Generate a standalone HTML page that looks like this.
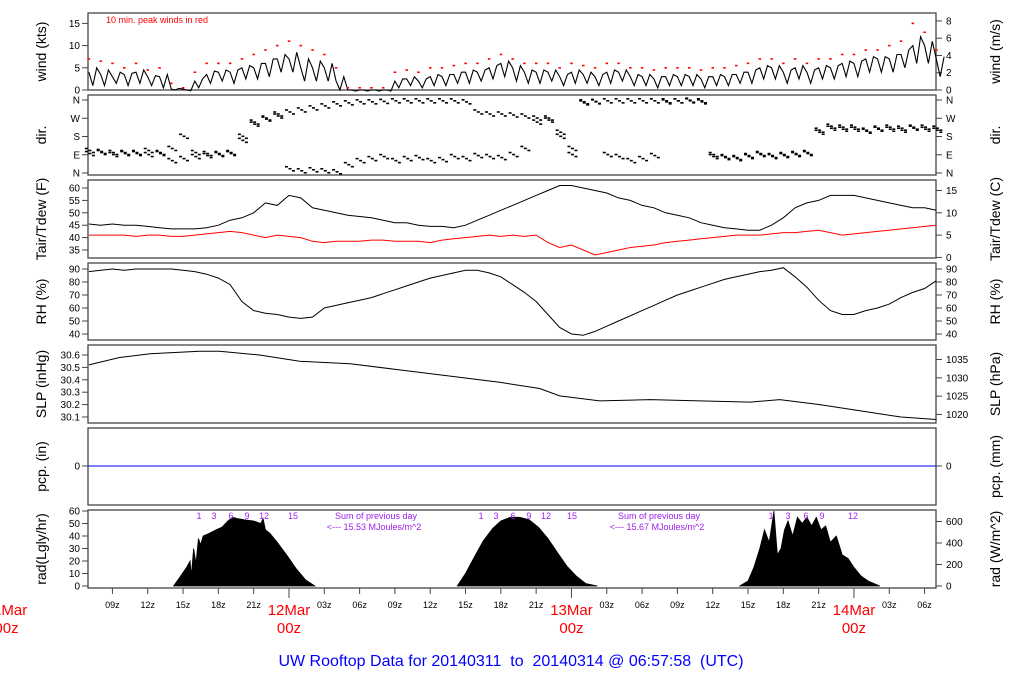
<!DOCTYPE html>
<html><head><meta charset="utf-8"><style>
html,body{margin:0;padding:0;background:#fff;}
svg{display:block;font-family:"Liberation Sans",sans-serif;}
</style></head><body>
<svg id="c" width="1024" height="700" viewBox="0 0 1024 700"></svg>
<script>
const hours=[];for(let h=7;h<=79;h++)hours.push(h);
const windMean=[4,3.5,3,3.5,4,3,3,0.2,0.2,2,3.5,4,4,5,5,6,7,7,5,5,5,2,0,0,0,0,2,2.5,2,3,3,3.5,4,4,5,6,5,4,4,4,3,4,3.5,3,4,4,3,3,2.5,3,3,3,2.5,3,3,3.5,4,5,5,4,5,4,5,5,6,6,7,7,7,8,10,10,7];
const windLow=[1,1,1.5,1,1.5,1,0.5,0,0,0.5,1.5,2,1.5,2.5,2.5,3,4,4,2,2,2,0,0,0,0,0,0.5,1,0.5,1,1,1.5,1.5,2,2.5,3,2,1.5,1.5,2,1,1.5,1.5,1,1.5,2,1,1,0.5,1,1,1,0.5,1,1,1.5,1.5,2.5,2.5,1.5,2.5,1.5,2.5,2.5,3,3,4,4,4,5,6,6,3];
const windPeak=[7,6.5,6,5,6,4.5,5,1.5,0.5,4,6,6,6,7,8,9,10,11,10,9,8,5,0.5,0.5,0.5,0.5,4,4.5,4,5,5,5.5,6,6,7,8,7,6,6,6,5,6,5.5,5,6,6,5,5,4.5,5,5,5,4.5,5,5,5.5,6,7,7,6,7,6,7,7,8,8,9,9,10,11,15,13,9];
const windDir=[110,105,100,95,100,110,95,120,180,100,95,95,100,160,240,270,290,300,310,320,330,340,345,350,350,352,355,355,355,355,355,355,350,300,290,290,285,280,270,260,200,120,350,352,355,355,355,355,355,355,355,355,355,80,75,70,80,90,85,90,95,100,200,220,225,215,210,220,215,220,225,215,220];
const dirAlt=[95,100,90,100,95,90,100,60,70,80,85,90,95,180,250,265,280,20,10,15,10,5,40,60,70,80,60,70,75,60,65,80,70,85,80,75,90,120,250,270,180,90,345,350,90,80,60,70,85,350,355,358,350,90,80,75,85,95,80,85,90,95,210,230,215,225,205,215,225,210,220,225,210];
const tair=[45.5,45,45.5,45,45,44.5,44,43.5,43.5,43.5,44,45,47,48,50,54,53,57,56,52,51,50,49,48.5,48,47,46,46,45,44.5,44.5,44,45,47,49,51,53,55,57,59,61,61,60,59,58,56,55,53,52,50,49,48,46,45,44,43.5,43,43,45,48,52,54,55,57,57,57,56,55,54,53,52,52,51];
const tdew=[41,41,41,41,40.5,41,41,40.5,40.5,41,41.5,42,42.5,42,41,40,41,40.5,40,38.5,38,38.5,38.5,38.5,39,39,38.5,38.5,38.5,38,39,39.5,40,40.5,41,40.5,41,40.5,41,38,36,37,35,33,34,35,36,36.5,37,38,38.5,39,39.5,40,40.5,41,41,41,41.5,42,42,42.5,43,42,41,41.5,42,42.5,43,43.5,44,44.5,45];
const rh=[88,89,90,89,90,90,90,90,89,88,86,83,78,65,58,56,55,53,52,53,60,62,64,66,68,71,74,77,80,83,85,87,89,89,87,84,78,72,65,55,45,40,39,42,46,50,54,58,62,66,70,73,76,79,82,84,86,88,89,91,84,76,66,58,55,55,58,60,63,68,72,75,81];
const slpTimes=[7,9.6,12.2,16.4,18.1,21.5,24.9,29.2,33.4,37.7,41.9,45.3,47,50.4,54.7,58.9,63.2,65.7,69.1,72.5,76,79];
const slpValues=[30.52,30.58,30.61,30.63,30.63,30.60,30.55,30.53,30.48,30.43,30.38,30.33,30.27,30.23,30.24,30.23,30.22,30.24,30.20,30.15,30.10,30.08];
const radTimes=[14.2,14.8,15.3,15.6,15.7,15.9,16.1,16.3,16.5,16.7,17.2,17.8,18.3,18.8,19.2,19.6,20.2,21,21.6,21.8,22,22.4,23,23.8,24.6,25.4,26.2,
38.3,39,39.8,40.5,41.3,42,42.8,43.6,44.4,45.2,46,46.8,47.6,48.4,49.2,50.2,
62.3,63,63.5,64,64.4,64.8,65.2,65.5,65.8,66.1,66.4,66.8,67.2,67.6,68,68.4,68.8,69.2,69.6,70,70.5,71,71.5,72,72.6,73.2,74.2];
const radValues=[0,8,15,20,8,30,18,38,33,40,42,45,47,52,55,54,53,52,50,54,45,42,35,25,14,5,0,
0,10,24,36,46,52,55,55,53,47,38,27,16,8,2,0,
0,4,15,30,45,35,60,25,30,45,52,40,55,50,55,48,55,45,48,35,40,25,22,15,8,4,0];
const windTicks=[0,5,10,15], windTicksR=[0,2,4,6,8];
const dirTicks=[0,90,180,270,360], dirLabels=['N','E','S','W','N'];
const tTicks=[35,40,45,50,55,60], tTicksR=[0,5,10,15];
const rhTicks=[40,50,60,70,80,90];
const slpTicks=[30.1,30.2,30.3,30.4,30.5,30.6], slpTicksR=[1020,1025,1030,1035];
const radTicks=[0,10,20,30,40,50,60], radTicksR=[0,200,400,600];
const xTickHours=[9,12,15,18,21,24,27,30,33,36,39,42,45,48,51,54,57,60,63,66,69,72,75,78];

const NS='http://www.w3.org/2000/svg', svg=document.getElementById('c');
function el(tag,attrs,parent){const e=document.createElementNS(NS,tag);for(const k in attrs)e.setAttribute(k,attrs[k]);(parent||svg).appendChild(e);return e;}
function txt(s,x,y,size,anchor,fill,parent){const t=el('text',{x:x,y:y,'font-size':size,'text-anchor':anchor||'middle',fill:fill||'#000'},parent);t.textContent=s;return t;}
const X0=88,X1=936;
const X=t=>6.5+11.77*t;
function lin(v0,y0,v1,y1){return v=>y0+(v-v0)*(y1-y0)/(v1-v0);}
function panel(name,top,bot,title,titleR){
  const g=el('g',{});
  
  
  const r=el('rect',{x:X0,y:top,width:X1-X0,height:bot-top,fill:'none',stroke:'#444','stroke-width':1.3},g);
  
  
  const mid=(top+bot)/2;
  const a=txt(title,0,0,14,'middle','#000',g);a.setAttribute('transform','translate(46,'+mid+') rotate(-90)');
  
  
  const b=txt(titleR,0,0,14,'middle','#000',g);b.setAttribute('transform','translate(1000,'+mid+') rotate(-90)');
  
  
  return g;}
function ticksL(g,vals,Y,labels){vals.forEach((v,i)=>{const y=Y(v);el('line',{x1:X0-6,x2:X0,y1:y,y2:y,stroke:'#444'},g);const t=txt(labels?labels[i]:String(v),80,y+3.5,10,'end','#000',g);
  });}
function ticksR(g,vals,Y,labels){vals.forEach((v,i)=>{const y=Y(v);el('line',{x1:X1,x2:X1+6,y1:y,y2:y,stroke:'#444'},g);const t=txt(labels?labels[i]:String(v),946,y+3.5,10,'start','#000',g);
  });}
function path(g,ts,vs,Y,color,w,name){let d='';ts.forEach((t,i)=>{d+=(i?'L':'M')+X(t).toFixed(1)+','+Y(vs[i]).toFixed(1);});const p=el('path',{d:d,fill:'none',stroke:color,'stroke-width':w},g);
  return p;}

// wind
let Yw=lin(0,90,15,23.4);let g=panel('wind',13,90,'wind (kts)','wind (m/s)');
ticksL(g,windTicks,Yw);ticksR(g,windTicksR,v=>Yw(v/0.5144));
const wt=[],wv=[];hours.forEach((t,i)=>{wt.push(t);wv.push(windMean[i]);wt.push(t+0.33);wv.push(windLow[i]);wt.push(t+0.66);wv.push((windMean[i]+windPeak[i])/2-0.5);});
path(g,wt,wv,Yw,'#000',1.1,'wind-speed-line');
hours.forEach((t,i)=>{const r=el('rect',{x:X(t)-1.2,y:Yw(windPeak[i])-0.8,width:2.5,height:1.6,fill:'#f00'},g);
  });
let nt=txt('10 min. peak winds in red',106,23,9,'start','#f00',g);

// dir
let Yd=lin(0,173,360,100);g=panel('dir',95,175,'dir.','dir.');
ticksL(g,dirTicks,Yd,dirLabels);ticksR(g,dirTicks,Yd,dirLabels);
[windDir,dirAlt].forEach(arr=>hours.forEach((t,i)=>{for(let k=0;k<3;k++){const r=el('rect',{x:X(t)+k*3.5-4,y:Yd(arr[i])+(k-1)*2-1,width:3,height:1.6,fill:'#000'},g);
  }}));
// temp
let Yt=lin(35,250,60,188);g=panel('temp',180,258,'Tair/Tdew (F)','Tair/Tdew (C)');
ticksL(g,tTicks,Yt);ticksR(g,tTicksR,c=>Yt(c*1.8+32));
path(g,hours,tair,Yt,'#000',1,'air-temp-line');path(g,hours,tdew,Yt,'#f00',1,'dewpoint-line');
// rh
let Yr=lin(40,334,90,269);g=panel('rh',263,340,'RH (%)','RH (%)');
ticksL(g,rhTicks,Yr);ticksR(g,rhTicks,Yr);path(g,hours,rh,Yr,'#000',1,'rh-line');
// slp
let Ys=lin(30.1,417,30.6,355);g=panel('slp',345,423,'SLP (inHg)','SLP (hPa)');
ticksL(g,slpTicks,Ys,slpTicks.map(v=>v.toFixed(1)));ticksR(g,slpTicksR,h=>Ys(h/33.8639));
path(g,slpTimes,slpValues,Ys,'#000',1,'slp-line');
// pcp
let Yp=v=>466;g=panel('pcp',428,505,'pcp. (in)','pcp. (mm)');
ticksL(g,[0],Yp);ticksR(g,[0],Yp);
let pl=el('line',{x1:X0,x2:X1,y1:466,y2:466,stroke:'#00f','stroke-width':1},g);

// rad
let Yrad=lin(0,586,60,511);g=panel('rad',510,588,'rad(Lgly/hr)','rad (W/m^2)');
ticksL(g,radTicks,Yrad);ticksR(g,radTicksR,w=>Yrad(w/11.63));
let d='';let start=true;
radTimes.forEach((t,i)=>{if(radValues[i]===0&&!start&&i>0&&radValues[i-1]>0){d+='L'+X(t).toFixed(1)+','+Yrad(0)+'Z';start=true;return;}if(start){d+='M'+X(t).toFixed(1)+','+Yrad(0);start=false;}d+='L'+X(t).toFixed(1)+','+Yrad(radValues[i]).toFixed(1);});
let ra=el('path',{d:d,fill:'#000',stroke:'#000','stroke-width':0.8},g);

const hl=[[199,214,231,247,264,293],[481,496,513,529,546,572],[771,788,806,822,853]];
const hs=['1','3','6','9','12','15'];
hl.forEach(arr=>arr.forEach((x,i)=>{const t=txt(hs[i],x,519,9,'middle','#a020f0',g);
  }));
[[376,654,'15.53'],[659,940,'15.67']].forEach(a=>{let t=txt('Sum of previous day',a[0],519,9,'middle','#a020f0',g);
  
  t=txt('<--- '+a[2]+' MJoules/m^2',a[0]-2,530,9,'middle','#a020f0',g);
  });
// x axis
const ax=el('g',{});

xTickHours.forEach(h=>{const x=X(h);const mid=h%24===0;el('line',{x1:x,x2:x,y1:588,y2:mid?598:594,stroke:'#444'},ax);
  if(!mid){const t=txt(((h%24)<10?'0':'')+(h%24)+'z',x,608,9,'middle','#000',ax);
  }});
[[0,'11Mar'],[24,'12Mar'],[48,'13Mar'],[72,'14Mar']].forEach(a=>{const x=X(a[0]);let t=txt(a[1],x,615,15,'middle','#f00',ax);
  
  t=txt('00z',x,633,15,'middle','#f00',ax);
  });
let ti=txt('UW Rooftop Data for 20140311  to  20140314 @ 06:57:58  (UTC)',511,666,16,'middle','#00f');
ti.setAttribute('xml:space','preserve');ti.style.whiteSpace='pre';
</script>
</body></html>
